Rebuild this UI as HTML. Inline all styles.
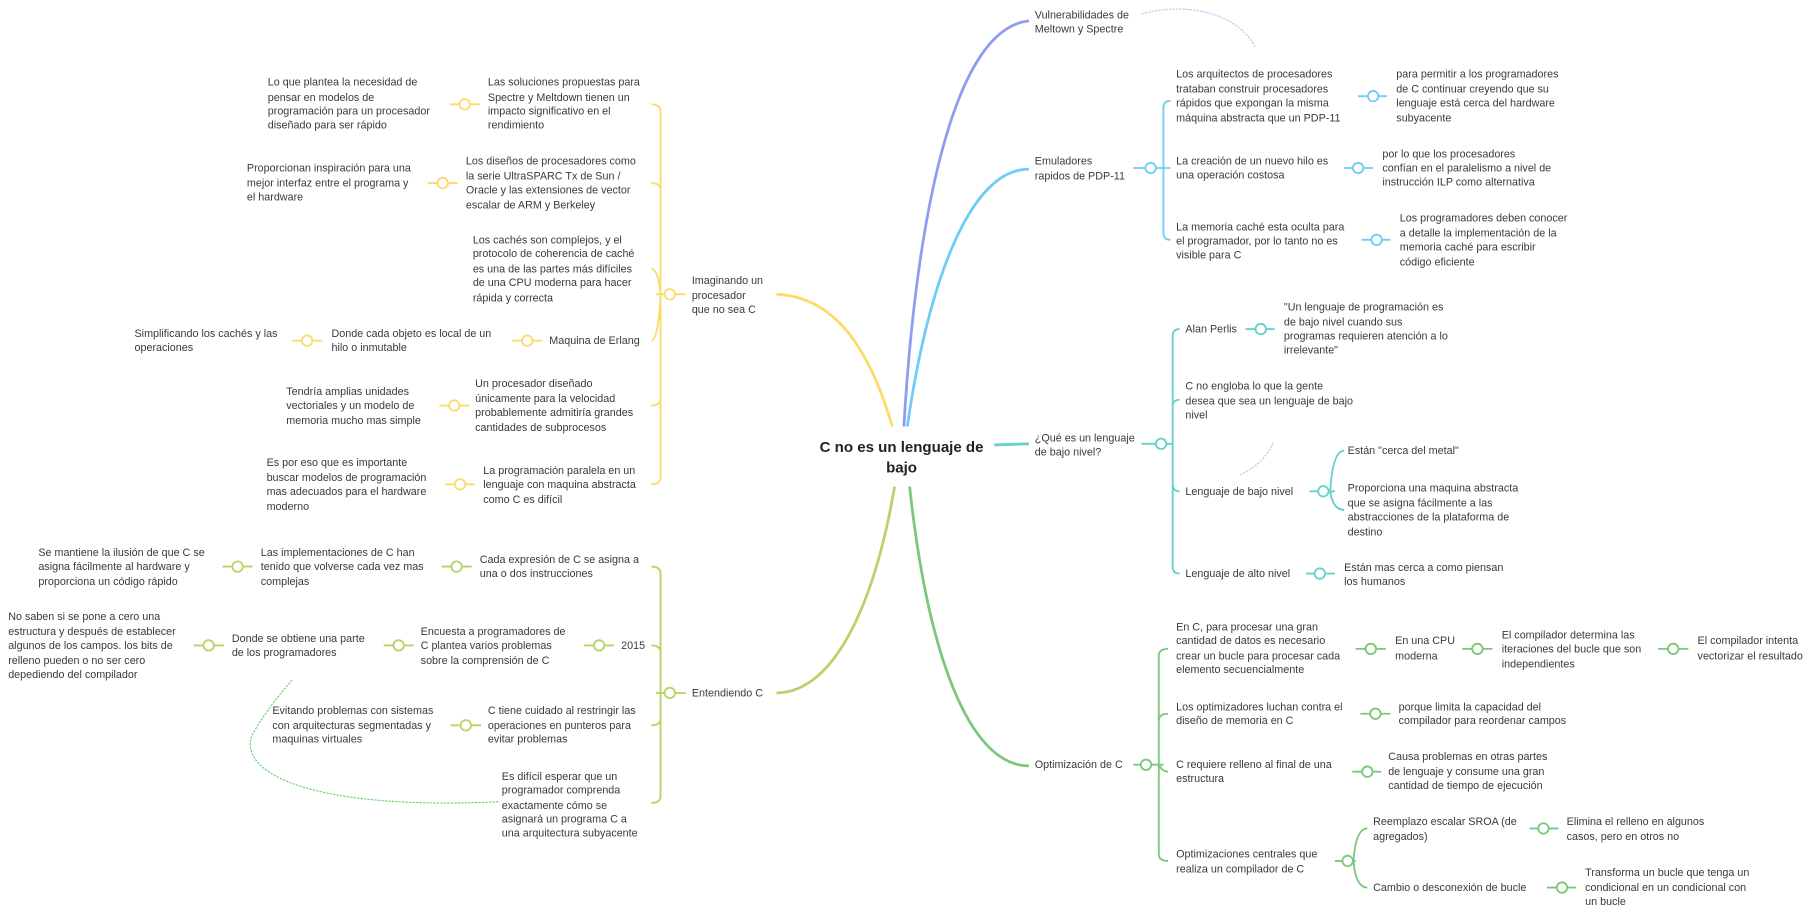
<!DOCTYPE html>
<html><head><meta charset="utf-8"><style>
html,body{margin:0;padding:0;background:#fff;width:1817px;height:920px;overflow:hidden}
svg text{font-family:"Liberation Sans",sans-serif;font-size:9.3px;fill:#3a3a3a}
.c{fill:#fff;stroke-width:1.6}
path{fill:none}
</style></head><body>
<svg width="1817" height="920" viewBox="0 0 1568 794" xmlns="http://www.w3.org/2000/svg">
<!-- central -->
<text x="778" y="390" text-anchor="middle" style="font-size:13px;font-weight:bold;fill:#222">C no es un lenguaje de</text>
<text x="778" y="408" text-anchor="middle" style="font-size:13px;font-weight:bold;fill:#222">bajo</text>

<!-- main connectors -->
<path d="M780,368 C790,200 820,25 888,18" stroke="#8f9cf2" stroke-width="2.4"/>
<path d="M783,368 C800,250 835,146 888,146" stroke="#6ecdf5" stroke-width="2.4"/>
<path d="M858,384 L888,383" stroke="#68d0cc" stroke-width="2.4"/>
<path d="M785,420 C800,560 835,661 888,661" stroke="#7cc77c" stroke-width="2.4"/>
<path d="M770,368 C750,300 720,256 670,254" stroke="#fbdc6a" stroke-width="2.4"/>
<path d="M772,420 C755,520 720,598 670,598" stroke="#b7d36a" stroke-width="2.4"/>

<!-- dashed arrows -->
<path d="M985,12 C1030,0 1070,15 1083,40" stroke="#c9c0f0" stroke-width="1" stroke-dasharray="2,1"/>
<path d="M1079,36 L1084,42 L1085,34 Z" fill="#b9aef0"/>
<path d="M1070,410 C1085,403 1095,392 1099,381" stroke="#9be0dc" stroke-width="1" stroke-dasharray="2,1"/>
<path d="M1096,383 L1100,378 L1101,385 Z" fill="#7fd8d3"/>
<path d="M430,692 C250,700 200,660 220,630 C232,610 245,595 252,587" stroke="#5dcf5d" stroke-width="0.9" stroke-dasharray="2,1"/>
<path d="M248,590 L254,584 L253,592 Z" fill="#3fb83f"/>

<!-- RIGHT: Vulnerabilidades -->
<text x="893" y="16">Vulnerabilidades de</text><text x="893" y="28">Meltown y Spectre</text>

<!-- Emuladores -->
<g stroke="#6ecdf5" stroke-width="1.6">
<path d="M978,145 H1010"/>
<path d="M1004,145 V93 Q1004,87 1010,87 M1004,145 V201 Q1004,207 1010,207"/>
<path d="M1172,83 H1197 M1160,145 H1185 M1175,207 H1200"/>
<circle class="c" cx="993" cy="145" r="4.5"/><circle class="c" cx="1185" cy="83" r="4.5"/><circle class="c" cx="1172" cy="145" r="4.5"/><circle class="c" cx="1188" cy="207" r="4.5"/>
</g>
<text x="893" y="142">Emuladores</text><text x="893" y="155">rapidos de PDP-11</text>
<text x="1015" y="67">Los arquitectos de procesadores</text><text x="1015" y="80">trataban construir procesadores</text><text x="1015" y="92">rápidos que expongan la misma</text><text x="1015" y="105">máquina abstracta que un PDP-11</text>
<text x="1205" y="67">para permitir a los programadores</text><text x="1205" y="80">de C continuar creyendo que su</text><text x="1205" y="92">lenguaje está cerca del hardware</text><text x="1205" y="105">subyacente</text>
<text x="1015" y="142">La creación de un nuevo hilo es</text><text x="1015" y="154">una operación costosa</text>
<text x="1193" y="136">por lo que los procesadores</text><text x="1193" y="148">confían en el paralelismo a nivel de</text><text x="1193" y="160">instrucción ILP como alternativa</text>
<text x="1015" y="199">La memoria caché esta oculta para</text><text x="1015" y="211">el programador, por lo tanto no es</text><text x="1015" y="223">visible para C</text>
<text x="1208" y="191">Los programadores deben conocer</text><text x="1208" y="204">a detalle la implementación de la</text><text x="1208" y="216">memoria caché para escribir</text><text x="1208" y="229">código eficiente</text>

<!-- Qué es -->
<g stroke="#68d0cc" stroke-width="1.6">
<path d="M985,383 H1012"/>
<path d="M1012,383 V290 Q1012,284 1018,284 M1012,383 V351 Q1012,345 1018,345 M1012,383 V418 Q1012,424 1018,424 M1012,383 V489 Q1012,495 1018,495"/>
<path d="M1075,284 H1100 M1130,424 H1152 M1127,495 H1152"/>
<path d="M1148,424 Q1150,389 1160,389 M1148,424 Q1150,440 1160,440"/>
<circle class="c" cx="1002" cy="383" r="4.5"/><circle class="c" cx="1088" cy="284" r="4.5"/><circle class="c" cx="1142" cy="424" r="4.5"/><circle class="c" cx="1139" cy="495" r="4.5"/>
</g>
<text x="893" y="381">¿Qué es un lenguaje</text><text x="893" y="393">de bajo nivel?</text>
<text x="1023" y="287">Alan Perlis</text>
<text x="1108" y="268">"Un lenguaje de programación es</text><text x="1108" y="281">de bajo nivel cuando sus</text><text x="1108" y="293">programas requieren atención a lo</text><text x="1108" y="305">irrelevante"</text>
<text x="1023" y="336">C no engloba lo que la gente</text><text x="1023" y="349">desea que sea un lenguaje de bajo</text><text x="1023" y="361">nivel</text>
<text x="1023" y="427">Lenguaje de bajo nivel</text>
<text x="1163" y="392">Están "cerca del metal"</text>
<text x="1163" y="424">Proporciona una maquina abstracta</text><text x="1163" y="437">que se asigna fácilmente a las</text><text x="1163" y="449">abstracciones de la plataforma de</text><text x="1163" y="462">destino</text>
<text x="1023" y="498">Lenguaje de alto nivel</text>
<text x="1160" y="493">Están mas cerca a como piensan</text><text x="1160" y="505">los humanos</text>

<!-- Optimización -->
<g stroke="#7cc77c" stroke-width="1.6">
<path d="M978,660 H1004"/>
<path d="M1000,660 V566 Q1000,560 1008,560 M1000,660 V622 Q1000,616 1008,616 M1000,660 Q1003,666 1008,666 M1000,660 V737 Q1000,743 1008,743"/>
<path d="M1170,560 H1196 M1262,560 H1288 M1431,560 H1457 M1174,616 H1200 M1167,666 H1192 M1152,743 H1170 M1320,715 H1345 M1335,766 H1360"/>
<path d="M1168,743 Q1170,715 1180,715 M1168,743 Q1170,766 1180,766"/>
<circle class="c" cx="989" cy="660" r="4.5"/><circle class="c" cx="1183" cy="560" r="4.5"/><circle class="c" cx="1275" cy="560" r="4.5"/><circle class="c" cx="1444" cy="560" r="4.5"/><circle class="c" cx="1187" cy="616" r="4.5"/><circle class="c" cx="1180" cy="666" r="4.5"/><circle class="c" cx="1163" cy="743" r="4.5"/><circle class="c" cx="1332" cy="715" r="4.5"/><circle class="c" cx="1348" cy="766" r="4.5"/>
</g>
<text x="893" y="663">Optimización de C</text>
<text x="1015" y="544">En C, para procesar una gran</text><text x="1015" y="556">cantidad de datos es necesario</text><text x="1015" y="569">crear un bucle para procesar cada</text><text x="1015" y="581">elemento secuencialmente</text>
<text x="1204" y="556">En una CPU</text><text x="1204" y="569">moderna</text>
<text x="1296" y="551">El compilador determina las</text><text x="1296" y="563">iteraciones del bucle que son</text><text x="1296" y="576">independientes</text>
<text x="1465" y="556">El compilador intenta</text><text x="1465" y="569">vectorizar el resultado</text>
<text x="1015" y="613">Los optimizadores luchan contra el</text><text x="1015" y="625">diseño de memoria en C</text>
<text x="1207" y="613">porque limita la capacidad del</text><text x="1207" y="625">compilador para reordenar campos</text>
<text x="1015" y="663">C requiere relleno al final de una</text><text x="1015" y="675">estructura</text>
<text x="1198" y="656">Causa problemas en otras partes</text><text x="1198" y="669">de lenguaje y consume una gran</text><text x="1198" y="681">cantidad de tiempo de ejecución</text>
<text x="1015" y="740">Optimizaciones centrales que</text><text x="1015" y="753">realiza un compilador de C</text>
<text x="1185" y="712">Reemplazo escalar SROA (de</text><text x="1185" y="725">agregados)</text>
<text x="1352" y="712">Elimina el relleno en algunos</text><text x="1352" y="725">casos, pero en otros no</text>
<text x="1185" y="769">Cambio o desconexión de bucle</text>
<text x="1368" y="756">Transforma un bucle que tenga un</text><text x="1368" y="769">condicional en un condicional con</text><text x="1368" y="781">un bucle</text>

<!-- LEFT: Imaginando -->
<g stroke="#fbdc6a" stroke-width="1.6">
<path d="M592,254 H566"/>
<path d="M570,254 V96 Q570,90 562,90 M570,254 V164 Q570,158 562,158 M570,254 Q568,232 562,232 M570,254 Q568,294 562,294 M570,254 V344 Q570,350 562,350 M570,254 V412 Q570,418 562,418"/>
<path d="M388,90 H414 M369,158 H395 M442,294 H468 M252,294 H278 M379,350 H405 M384,418 H410"/>
<circle class="c" cx="578" cy="254" r="4.5"/><circle class="c" cx="401" cy="90" r="4.5"/><circle class="c" cx="382" cy="158" r="4.5"/><circle class="c" cx="455" cy="294" r="4.5"/><circle class="c" cx="265" cy="294" r="4.5"/><circle class="c" cx="392" cy="350" r="4.5"/><circle class="c" cx="397" cy="418" r="4.5"/>
</g>
<text x="597" y="245">Imaginando un</text><text x="597" y="258">procesador</text><text x="597" y="270">que no sea C</text>
<text x="421" y="74">Las soluciones propuestas para</text><text x="421" y="87">Spectre y Meltdown tienen un</text><text x="421" y="99">impacto significativo en el</text><text x="421" y="111">rendimiento</text>
<text x="231" y="74">Lo que plantea la necesidad de</text><text x="231" y="87">pensar en modelos de</text><text x="231" y="99">programación para un procesador</text><text x="231" y="111">diseñado para ser rápido</text>
<text x="402" y="142">Los diseños de procesadores como</text><text x="402" y="155">la serie UltraSPARC Tx de Sun /</text><text x="402" y="167">Oracle y las extensiones de vector</text><text x="402" y="180">escalar de ARM y Berkeley</text>
<text x="213" y="148">Proporcionan inspiración para una</text><text x="213" y="161">mejor interfaz entre el programa y</text><text x="213" y="173">el hardware</text>
<text x="408" y="210">Los cachés son complejos, y el</text><text x="408" y="222">protocolo de coherencia de caché</text><text x="408" y="235">es una de las partes más difíciles</text><text x="408" y="247">de una CPU moderna para hacer</text><text x="408" y="260">rápida y correcta</text>
<text x="474" y="297">Maquina de Erlang</text>
<text x="286" y="291">Donde cada objeto es local de un</text><text x="286" y="303">hilo o inmutable</text>
<text x="116" y="291">Simplificando los cachés y las</text><text x="116" y="303">operaciones</text>
<text x="410" y="334">Un procesador diseñado</text><text x="410" y="347">únicamente para la velocidad</text><text x="410" y="359">probablemente admitiría grandes</text><text x="410" y="372">cantidades de subprocesos</text>
<text x="247" y="341">Tendría amplias unidades</text><text x="247" y="353">vectoriales y un modelo de</text><text x="247" y="366">memoria mucho mas simple</text>
<text x="417" y="409">La programación paralela en un</text><text x="417" y="421">lenguaje con maquina abstracta</text><text x="417" y="434">como C es difícil</text>
<text x="230" y="402">Es por eso que es importante</text><text x="230" y="415">buscar modelos de programación</text><text x="230" y="427">mas adecuados para el hardware</text><text x="230" y="440">moderno</text>

<!-- Entendiendo C -->
<g stroke="#b7d36a" stroke-width="1.6">
<path d="M592,598 H566"/>
<path d="M570,598 V495 Q570,489 562,489 M570,598 V563 Q570,557 562,557 M570,598 V620 Q570,626 562,626 M570,598 V687 Q570,693 562,693"/>
<path d="M381,489 H407 M192,489 H218 M504,557 H530 M331,557 H357 M167,557 H193 M389,626 H415"/>
<circle class="c" cx="578" cy="598" r="4.5"/><circle class="c" cx="394" cy="489" r="4.5"/><circle class="c" cx="205" cy="489" r="4.5"/><circle class="c" cx="517" cy="557" r="4.5"/><circle class="c" cx="344" cy="557" r="4.5"/><circle class="c" cx="180" cy="557" r="4.5"/><circle class="c" cx="402" cy="626" r="4.5"/>
</g>
<text x="597" y="601">Entendiendo C</text>
<text x="414" y="486">Cada expresión de C se asigna a</text><text x="414" y="498">una o dos instrucciones</text>
<text x="225" y="480">Las implementaciones de C han</text><text x="225" y="492">tenido que volverse cada vez mas</text><text x="225" y="505">complejas</text>
<text x="33" y="480">Se mantiene la ilusión de que C se</text><text x="33" y="492">asigna fácilmente al hardware y</text><text x="33" y="505">proporciona un código rápido</text>
<text x="536" y="560">2015</text>
<text x="363" y="548">Encuesta a programadores de</text><text x="363" y="560">C plantea varios problemas</text><text x="363" y="573">sobre la comprensión de C</text>
<text x="200" y="554">Donde se obtiene una parte</text><text x="200" y="566">de los programadores</text>
<text x="7" y="535">No saben si se pone a cero una</text><text x="7" y="548">estructura y después de establecer</text><text x="7" y="560">algunos de los campos. los bits de</text><text x="7" y="573">relleno pueden o no ser cero</text><text x="7" y="585">depediendo del compilador</text>
<text x="421" y="616">C tiene cuidado al restringir las</text><text x="421" y="629">operaciones en punteros para</text><text x="421" y="641">evitar problemas</text>
<text x="235" y="616">Evitando problemas con sistemas</text><text x="235" y="629">con arquitecturas segmentadas y</text><text x="235" y="641">maquinas virtuales</text>
<text x="433" y="673">Es difícil esperar que un</text><text x="433" y="685">programador comprenda</text><text x="433" y="698">exactamente cómo se</text><text x="433" y="710">asignará un programa C a</text><text x="433" y="722">una arquitectura subyacente</text>
</svg>
</body></html>
